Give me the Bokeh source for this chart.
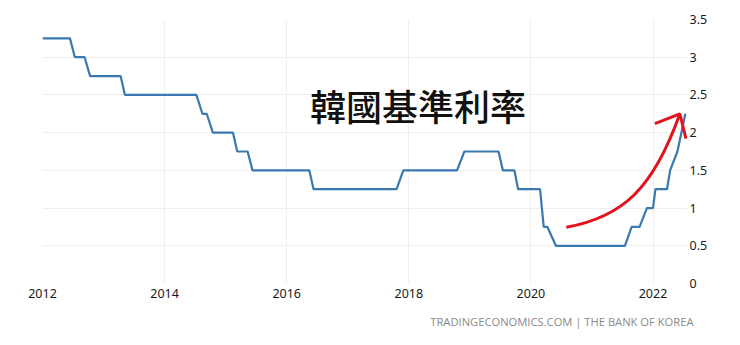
from bokeh.plotting import figure
from bokeh.models import Range1d, FixedTicker, LinearAxis, Label, Title
from bokeh.embed import file_html
from bokeh.resources import INLINE

# Bank of Korea base rate (decimal year of meeting points, rate %)
dates = [2012.0, 2012.45, 2012.53, 2012.69, 2012.78, 2013.28, 2013.35, 2014.52, 2014.62,
         2014.69, 2014.79, 2015.12, 2015.19, 2015.36, 2015.44, 2016.37, 2016.44, 2017.80,
         2017.91, 2018.79, 2018.91, 2019.47, 2019.54, 2019.73, 2019.79, 2020.15, 2020.21,
         2020.27, 2020.41, 2021.54, 2021.65, 2021.78, 2021.90, 2022.0, 2022.04, 2022.23,
         2022.28, 2022.40, 2022.53]
rates = [3.25, 3.25, 3.00, 3.00, 2.75, 2.75, 2.50, 2.50, 2.25,
         2.25, 2.00, 2.00, 1.75, 1.75, 1.50, 1.50, 1.25, 1.25,
         1.50, 1.50, 1.75, 1.75, 1.50, 1.50, 1.25, 1.25, 0.75,
         0.75, 0.50, 0.50, 0.75, 0.75, 1.00, 1.00, 1.25, 1.25,
         1.50, 1.75, 2.25]

x_ticks = [2012, 2014, 2016, 2018, 2020, 2022]
y_ticks = [0, 0.5, 1, 1.5, 2, 2.5, 3, 3.5]
y_tick_labels = ["0", "0.5", "1", "1.5", "2", "2.5", "3", "3.5"]

title_text = "韓國基準利率"
source_text = "TRADINGECONOMICS.COM | THE BANK OF KOREA"

# hand-drawn red arrow annotation (data coords)
arrow_start = (2020.58, 0.745)
arrow_cp1 = (2021.5, 0.88)
arrow_cp2 = (2022.0, 1.25)
arrow_tip = (2022.44, 2.25)
arrow_wing_left = (2022.03, 2.12)
arrow_wing_right = (2022.54, 1.92)

p = figure(width=740, height=345, output_backend="svg", toolbar_location=None,
           x_range=Range1d(2012.0, 2022.565), y_range=Range1d(0, 3.5),
           min_border_left=42, min_border_right=53, min_border_top=19,
           min_border_bottom=62, y_axis_location=None)
p.outline_line_color = None
p.background_fill_color = "white"
p.border_fill_color = "white"

# x axis
xa = p.xaxis[0]
xa.ticker = FixedTicker(ticks=x_ticks)
xa.axis_line_color = None
xa.major_tick_line_color = None
xa.minor_tick_line_color = None
xa.major_tick_out = 0
xa.major_tick_in = 0
xa.major_label_standoff = 5
xa.major_label_text_font = "Noto Sans"
xa.major_label_text_font_size = "12.5px"
xa.major_label_text_color = "#1a1a1a"

# right y axis
ya = LinearAxis(ticker=FixedTicker(ticks=y_ticks))
ya.major_label_overrides = {t: l for t, l in zip(y_ticks, y_tick_labels)}
ya.axis_line_color = None
ya.major_tick_line_color = None
ya.minor_tick_line_color = None
ya.major_tick_out = 0
ya.major_tick_in = 0
ya.major_label_standoff = 2
ya.major_label_text_font = "Noto Sans"
ya.major_label_text_font_size = "12.5px"
ya.major_label_text_color = "#1a1a1a"
p.add_layout(ya, "right")

p.xgrid.ticker = FixedTicker(ticks=x_ticks)
p.xgrid.grid_line_color = "#efefef"
p.ygrid.grid_line_color = "#efefef"
p.ygrid.ticker = FixedTicker(ticks=y_ticks)

p.line(dates, rates, line_color="#3a78b0", line_width=2.2)

# red arrow
p.bezier(x0=[arrow_start[0]], y0=[arrow_start[1]], x1=[arrow_tip[0]], y1=[arrow_tip[1]],
         cx0=[arrow_cp1[0]], cy0=[arrow_cp1[1]], cx1=[arrow_cp2[0]], cy1=[arrow_cp2[1]],
         line_color="#e3121c", line_width=3)
p.multi_line(xs=[[arrow_wing_left[0], arrow_tip[0], arrow_wing_right[0]]],
             ys=[[arrow_wing_left[1], arrow_tip[1], arrow_wing_right[1]]],
             line_color="#e3121c", line_width=3)

p.add_layout(Label(x=2018.15, y=2.373, text=title_text,
                   text_font="Noto Sans CJK TC Medium, Noto Sans CJK TC",
                   text_font_style="normal", text_font_size="36px", text_color="#111111",
                   text_align="center", text_baseline="middle"))

p.add_layout(Title(text=source_text, align="right", text_font="Open Sans",
                   text_font_size="11.2px", text_font_style="normal",
                   text_color="#8a8a8a", offset=-6, standoff=22), "below")

open("out.html", "w").write(file_html(p, INLINE))
